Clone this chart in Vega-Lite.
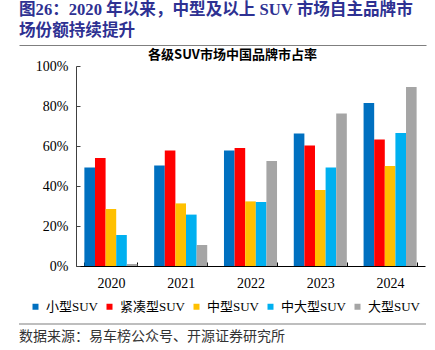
{
  "$schema": "https://vega.github.io/schema/vega-lite/v6.json",
  "background": "white",
  "padding": {"left": 16, "right": 12, "top": 2, "bottom": 4},
  "title": {
    "text": ["图26：2020 年以来，中型及以上 SUV 市场自主品牌市", "场份额持续提升"],
    "anchor": "start",
    "frame": "group",
    "font": "Liberation Serif, Noto Sans CJK SC",
    "fontSize": 16.6,
    "fontWeight": "bold",
    "color": "#2E3192",
    "lineHeight": 21,
    "offset": 5
  },
  "config": {
    "view": {"stroke": null},
    "font": "Liberation Serif, Noto Sans CJK SC"
  },
  "spacing": 4,
  "vconcat": [
    {
      "width": 407,
      "height": 200,
      "title": {
        "text": "各级SUV市场中国品牌市占率",
        "anchor": "middle",
        "frame": "group",
        "dx": 10,
        "font": "Noto Sans CJK SC",
        "fontSize": 13,
        "fontWeight": "bold",
        "color": "#000000",
        "offset": -17
      },
      "layer": [
        {
          "data": {
            "values": [
              {"year": "2020", "type": "小型SUV", "share": 49.2},
              {"year": "2020", "type": "紧凑型SUV", "share": 54.0},
              {"year": "2020", "type": "中型SUV", "share": 28.5},
              {"year": "2020", "type": "中大型SUV", "share": 15.5},
              {"year": "2020", "type": "大型SUV", "share": 1.0},
              {"year": "2021", "type": "小型SUV", "share": 50.3},
              {"year": "2021", "type": "紧凑型SUV", "share": 57.7},
              {"year": "2021", "type": "中型SUV", "share": 31.3},
              {"year": "2021", "type": "中大型SUV", "share": 25.7},
              {"year": "2021", "type": "大型SUV", "share": 10.5},
              {"year": "2022", "type": "小型SUV", "share": 57.8},
              {"year": "2022", "type": "紧凑型SUV", "share": 59.0},
              {"year": "2022", "type": "中型SUV", "share": 32.3},
              {"year": "2022", "type": "中大型SUV", "share": 32.0},
              {"year": "2022", "type": "大型SUV", "share": 52.5},
              {"year": "2023", "type": "小型SUV", "share": 66.2},
              {"year": "2023", "type": "紧凑型SUV", "share": 60.3},
              {"year": "2023", "type": "中型SUV", "share": 38.0},
              {"year": "2023", "type": "中大型SUV", "share": 49.2},
              {"year": "2023", "type": "大型SUV", "share": 76.3},
              {"year": "2024", "type": "小型SUV", "share": 81.5},
              {"year": "2024", "type": "紧凑型SUV", "share": 63.3},
              {"year": "2024", "type": "中型SUV", "share": 50.0},
              {"year": "2024", "type": "中大型SUV", "share": 66.5},
              {"year": "2024", "type": "大型SUV", "share": 89.5}
            ]
          },
          "mark": {"type": "bar"},
          "encoding": {
            "x": {
              "field": "year",
              "type": "nominal",
              "scale": {"range": [57, 406], "paddingInner": 0.24, "paddingOuter": 0.12},
              "axis": {
                "title": null,
                "labelAngle": 0,
                "tickBand": "extent",
                "tickSize": -4,
                "labelPadding": 14,
                "labelFontSize": 14,
                "labelFont": "Liberation Serif",
                "labelColor": "#000000",
                "domainColor": "#000000",
                "tickColor": "#000000"
              }
            },
            "xOffset": {
              "field": "type",
              "sort": ["小型SUV", "紧凑型SUV", "中型SUV", "中大型SUV", "大型SUV"]
            },
            "y": {
              "field": "share",
              "type": "quantitative",
              "scale": {"domain": [0, 100]},
              "axis": {
                "title": null,
                "offset": -57,
                "values": [0, 20, 40, 60, 80, 100],
                "labelExpr": "datum.value + '%'",
                "grid": false,
                "tickSize": -4,
                "labelPadding": 12,
                "labelFontSize": 14,
                "labelFont": "Liberation Serif",
                "labelColor": "#000000",
                "domainColor": "#404040",
                "tickColor": "#404040"
              }
            },
            "color": {
              "field": "type",
              "type": "nominal",
              "sort": ["小型SUV", "紧凑型SUV", "中型SUV", "中大型SUV", "大型SUV"],
              "scale": {
                "domain": ["小型SUV", "紧凑型SUV", "中型SUV", "中大型SUV", "大型SUV"],
                "range": ["#0070C0", "#FF0000", "#FFC000", "#00B0F0", "#A5A5A5"]
              },
              "legend": {
                "orient": "none",
                "legendX": 10,
                "legendY": 234,
                "direction": "horizontal",
                "title": null,
                "symbolType": "square",
                "symbolSize": 36,
                "symbolStrokeWidth": 0,
                "labelOffset": 4,
                "labelFontSize": 13,
                "labelFont": "Liberation Serif, Noto Sans CJK SC",
                "labelColor": "#000000",
                "columnPadding": 4
              }
            }
          }
        },
        {
          "data": {"values": [{"from": 0}]},
          "mark": {"type": "point", "opacity": 0},
          "encoding": {
            "x": {
              "field": "from",
              "type": "quantitative",
              "scale": {"domain": [0, 1], "nice": false, "zero": false},
              "axis": {"orient": "top", "offset": 21, "labels": false, "ticks": false, "grid": false, "title": null, "domainColor": "#7f7f7f", "domainWidth": 1.2}
            }
          }
        }
      ],
      "resolve": {"scale": {"x": "independent"}, "axis": {"x": "independent"}}
    },
    {
      "width": 407,
      "height": 6,
      "data": {"values": [{"from": 0, "to": 1}]},
      "mark": {"type": "rule", "color": "#7f7f7f", "strokeWidth": 1.2},
      "encoding": {
        "x": {"field": "from", "type": "quantitative", "scale": {"domain": [0, 1], "nice": false, "zero": false}, "axis": null},
        "x2": {"field": "to"},
        "y": {"value": 6}
      },
      "title": {
        "text": "数据来源：易车榜公众号、开源证券研究所",
        "orient": "bottom",
        "anchor": "start",
        "frame": "group",
        "font": "Noto Sans CJK SC",
        "fontSize": 14,
        "fontWeight": "normal",
        "color": "#333333",
        "offset": 5
      }
    }
  ],
  "resolve": {"legend": {"color": "independent"}}
}
